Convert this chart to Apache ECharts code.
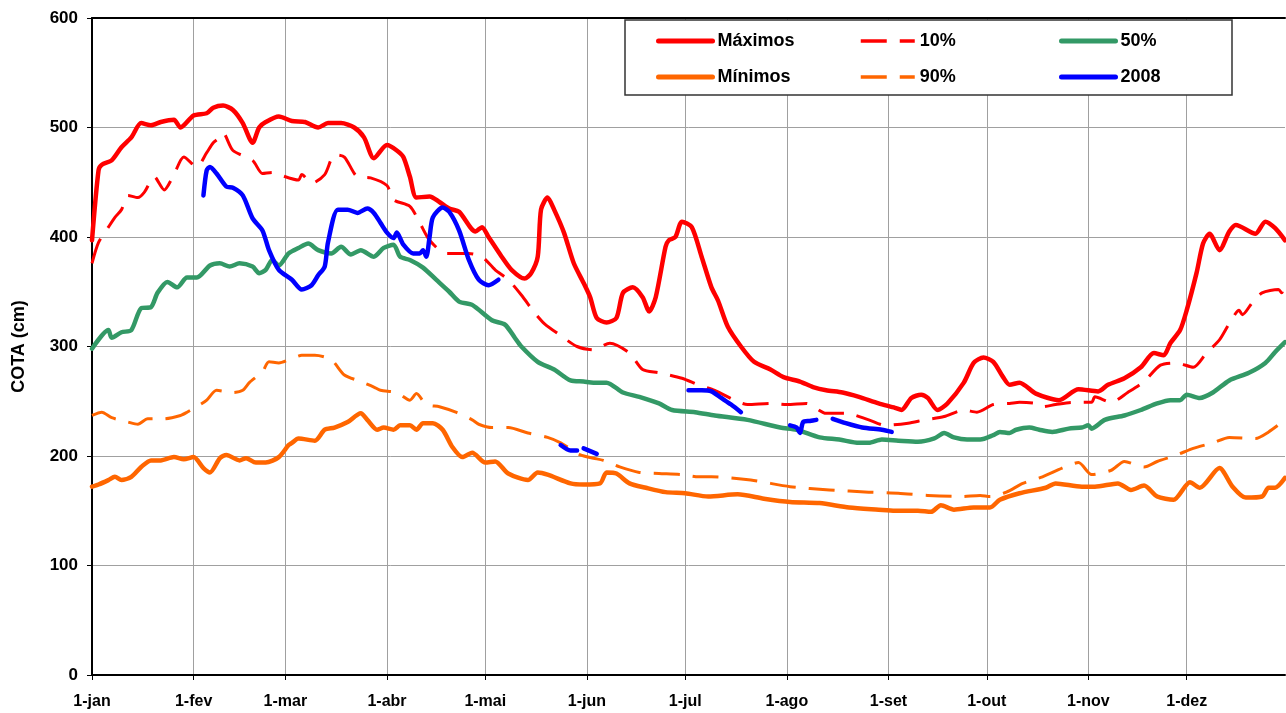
<!DOCTYPE html>
<html>
<head>
<meta charset="utf-8">
<script src="https://cdn.jsdelivr.net/npm/echarts@6/dist/echarts.min.js"></script>
<style>
html,body{margin:0;padding:0;background:#fff;}
#chart{width:1286px;height:713px;}
</style>
</head>
<body>
<div id="chart"></div>
<script>
// Tick labels (month starts, day-of-year index)
const monthLabels = ['1-jan','1-fev','1-mar','1-abr','1-mai','1-jun','1-jul','1-ago','1-set','1-out','1-nov','1-dez'];
const monthStart = [0,31,59,90,120,151,181,212,243,273,304,334];
const yTicks = [0,100,200,300,400,500,600];

// Series: [day-of-year index, cota (cm)]
const maximos = [[0,397],[2,461],[3,466],[6,470],[9,482],[12,491],[15,504],[18,502],[21,505],[25,507],[27,500],[31,511],[35,513],[37,518],[40,520],[43,516],[46,504],[49,486],[51,500],[53,505],[57,510],[61,506],[65,505],[69,500],[72,504],[76,504],[80,500],[83,491],[86,472],[90,484],[93,479],[95,473],[97,455],[99,436],[103,437],[106,432],[109,426],[112,423],[117,405],[119,409],[121,400],[125,382],[128,370],[132,362],[134,367],[136,382],[137,425],[139,436],[141,425],[144,404],[147,376],[150,358],[152,345],[154,326],[157,322],[160,326],[162,349],[165,354],[168,345],[170,332],[172,345],[175,391],[176,397],[178,400],[180,414],[183,409],[186,382],[189,354],[191,342],[194,318],[198,300],[202,286],[207,279],[211,272],[216,268],[220,263],[224,260],[229,258],[234,254],[240,248],[245,244],[247,242],[250,253],[253,256],[255,253],[258,242],[261,248],[266,267],[269,285],[272,290],[275,286],[278,272],[280,265],[283,267],[288,257],[295,251],[301,261],[307,259],[310,265],[315,271],[320,281],[324,294],[327,292],[329,303],[332,315],[334,333],[337,367],[339,394],[341,403],[344,388],[347,405],[349,411],[355,403],[358,414],[361,408],[364,397]];

const p10 = [[0,376],[2,395],[5,409],[7,418],[9,425],[11,438],[14,436],[16,441],[19,455],[22,443],[25,457],[28,473],[32,464],[35,477],[37,486],[39,491],[40,495],[43,479],[49,470],[52,458],[55,459],[57,457],[63,452],[64,457],[67,449],[71,457],[74,475],[77,473],[81,455],[85,454],[90,447],[92,434],[97,428],[100,413],[103,397],[108,385],[111,385],[115,385],[119,382],[123,370],[127,361],[131,347],[135,331],[138,321],[143,310],[148,300],[153,297],[158,303],[164,294],[168,279],[173,276],[180,271],[185,265],[190,260],[196,251],[200,247],[207,248],[212,247],[218,248],[224,239],[230,239],[237,233],[242,228],[249,230],[254,233],[260,236],[266,242],[270,240],[275,247],[280,248],[283,249],[288,248],[290,245],[294,247],[299,249],[305,249],[306,254],[311,249],[316,258],[321,268],[326,283],[331,285],[336,281],[340,294],[344,306],[347,321],[350,333],[351,329],[354,340],[357,349],[362,352],[363,349],[364,362]];

const p50 = [[0,298],[5,315],[6,308],[9,313],[12,315],[15,335],[18,336],[20,349],[23,359],[26,354],[29,363],[32,363],[36,374],[39,376],[42,373],[45,376],[49,373],[51,367],[53,370],[55,379],[57,374],[60,385],[63,390],[66,394],[69,388],[73,385],[76,391],[79,384],[82,388],[86,382],[89,390],[92,393],[94,382],[97,379],[101,372],[105,361],[109,350],[112,341],[116,338],[122,324],[126,320],[129,308],[131,300],[136,286],[141,279],[146,269],[150,268],[153,267],[157,267],[162,258],[167,254],[173,248],[177,242],[184,240],[190,237],[200,233],[210,226],[215,224],[222,217],[228,215],[234,212],[237,212],[241,215],[246,214],[252,213],[257,216],[260,221],[263,217],[267,215],[271,215],[275,219],[277,222],[280,221],[282,224],[286,226],[289,224],[293,222],[298,225],[302,226],[304,228],[305,225],[309,233],[315,237],[320,242],[325,248],[329,251],[332,251],[334,256],[338,253],[342,258],[347,269],[353,276],[358,285],[361,295],[364,304]];

const minimos = [[0,172],[2,174],[5,178],[7,181],[9,178],[12,181],[15,190],[18,196],[21,196],[25,199],[28,197],[31,199],[34,189],[36,185],[39,198],[41,201],[45,196],[47,198],[50,194],[53,194],[57,199],[60,210],[61,212],[63,216],[68,214],[71,224],[74,226],[78,231],[82,239],[84,233],[87,224],[89,226],[92,224],[94,228],[97,228],[99,224],[101,230],[104,230],[107,224],[110,208],[113,199],[116,203],[120,194],[123,195],[127,184],[133,178],[136,185],[139,183],[146,175],[150,174],[155,175],[157,185],[160,184],[164,175],[169,171],[175,167],[181,166],[188,163],[197,165],[205,161],[213,158],[222,157],[231,153],[240,151],[245,150],[252,150],[256,149],[259,155],[263,151],[269,153],[274,153],[277,160],[283,166],[291,171],[294,175],[302,172],[306,172],[313,175],[317,169],[321,173],[325,163],[330,160],[335,176],[338,171],[344,189],[348,172],[352,162],[357,163],[359,171],[361,171],[364,180]];

const p90 = [[0,237],[3,240],[6,235],[11,231],[14,229],[17,234],[22,234],[27,237],[29,240],[33,247],[35,251],[38,260],[43,258],[46,260],[48,267],[52,277],[54,286],[57,285],[61,289],[64,292],[68,292],[73,288],[77,274],[82,268],[86,263],[88,260],[93,258],[97,251],[99,257],[102,247],[106,245],[111,240],[116,233],[118,229],[122,226],[127,226],[133,221],[139,217],[143,212],[149,201],[153,198],[156,196],[161,190],[167,185],[173,184],[180,183],[185,181],[189,181],[201,178],[213,172],[225,169],[237,167],[246,166],[255,164],[265,163],[271,164],[274,163],[279,167],[284,175],[290,181],[296,189],[301,194],[305,183],[311,187],[315,195],[321,190],[325,195],[331,201],[336,207],[342,212],[347,217],[355,216],[359,222],[364,233]];

const y2008 = [[34,438],[35,461],[36,464],[38,458],[41,446],[43,445],[46,438],[49,417],[52,406],[54,388],[57,370],[61,361],[64,352],[67,356],[69,365],[71,373],[72,395],[75,425],[78,425],[81,422],[84,426],[86,422],[88,413],[90,404],[92,399],[93,404],[95,393],[98,385],[100,385],[101,388],[102,382],[103,400],[104,418],[107,427],[109,423],[112,406],[115,379],[118,361],[121,356],[124,361],
  [125,null],[143,210],[146,205],[148,205],[149,null],[150,207],[154,202],[155,null],
  [182,260],[186,260],[189,259],[192,253],[195,247],[198,240],[199,null],
  [213,228],[215,226],[216,221],[217,231],[219,232],[221,233],[222,null],
  [226,234],[230,230],[235,226],[241,224],[244,222]];

const days = [];
for (let i = 0; i < 365; i++) days.push(String(i));

const chart = echarts.init(document.getElementById('chart'), null, {renderer:'canvas'});
const font = 'Arial, "Liberation Sans", sans-serif';
const isStart = (idx) => monthStart.indexOf(idx) >= 0;
const DASH = [26,13];

function ser(name, data, color, width, dashed) {
  return {
    name, type:'line', data, symbol:'none', showSymbol:false, smooth:0.25,
    connectNulls:false,
    lineStyle:{color, width, type: dashed ? DASH : 'solid', cap: dashed ? 'butt' : 'round', join:'round'},
    itemStyle:{color},
    emphasis:{disabled:true}
  };
}

function legend(left, names, lineStyle) {
  return {
    orient:'vertical', itemWidth:54, itemHeight:18, itemGap:18, padding:0, z:60,
    left, top:32, data:names, selectedMode:false,
    itemStyle:{opacity:0, borderWidth:0},
    lineStyle,
    textStyle:{fontFamily:font, fontWeight:'bold', fontSize:18, color:'#000', lineHeight:18}
  };
}

chart.setOption({
  animation:false,
  backgroundColor:'#fff',
  grid:{left:92, right:1, top:18, bottom:38, containLabel:false},
  graphic:[{type:'rect', z:50, shape:{x:625, y:20, width:607, height:75},
    style:{fill:'#fff', stroke:'#333', lineWidth:1.5}}],
  legend:[
    legend(656, ['Máximos','Mínimos'], {width:5, type:'solid', cap:'round'}),
    legend(859, ['10%','90%'], {width:3.5, type:DASH, cap:'butt'}),
    legend(1059, ['50%','2008'], {width:5, type:'solid', cap:'round'})
  ],
  xAxis:[{
    type:'category', data:days, boundaryGap:false,
    axisLine:{lineStyle:{color:'#000', width:2}},
    axisTick:{show:true, interval:(i)=>isStart(i), length:5, lineStyle:{color:'#000', width:1}},
    axisLabel:{interval:(i)=>isStart(i), formatter:(v,i)=>monthLabels[monthStart.indexOf(Number(v))] || '',
      fontFamily:font, fontWeight:'bold', fontSize:16, color:'#000', margin:19},
    splitLine:{show:true, interval:(i)=>isStart(i), lineStyle:{color:'#a0a0a0', width:1}}
  },{
    type:'category', data:days, boundaryGap:false, position:'top',
    axisLine:{show:true, lineStyle:{color:'#000', width:2}},
    axisTick:{show:false}, axisLabel:{show:false}, splitLine:{show:false}
  }],
  yAxis:{
    type:'value', min:yTicks[0], max:yTicks[yTicks.length-1], interval:100,
    name:'COTA (cm)', nameLocation:'middle', nameRotate:90, nameGap:64,
    nameTextStyle:{fontFamily:font, fontWeight:'bold', fontSize:18, color:'#000'},
    axisLine:{show:true, lineStyle:{color:'#000', width:2}},
    axisTick:{show:true, length:5, lineStyle:{color:'#000'}},
    axisLabel:{fontFamily:font, fontWeight:'bold', fontSize:17, color:'#000', margin:14},
    splitLine:{show:true, lineStyle:{color:'#a0a0a0', width:1}}
  },
  series:[
    ser('Máximos', maximos, '#FF0000', 4.5, false),
    ser('Mínimos', minimos, '#FF6600', 4.5, false),
    ser('10%', p10, '#FF0000', 3, true),
    ser('90%', p90, '#FF6600', 3, true),
    ser('50%', p50, '#339966', 4.5, false),
    ser('2008', y2008, '#0000FF', 4.5, false)
  ]
});
</script>
</body>
</html>
